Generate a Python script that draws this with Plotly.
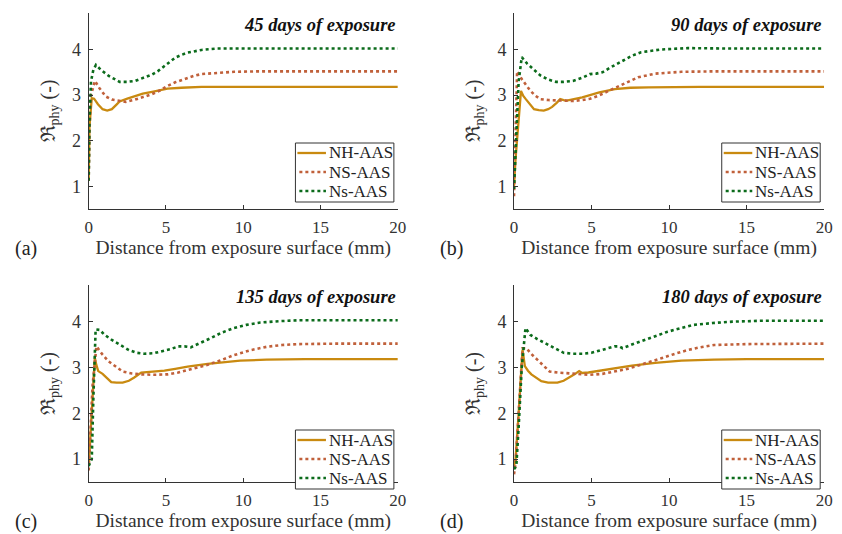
import plotly.graph_objects as go

# Physical resistance ratio profiles vs. depth for three mixes at four exposure times
panel_titles = ["45 days of exposure", "90 days of exposure",
                "135 days of exposure", "180 days of exposure"]
panel_tags = ["(a)", "(b)", "(c)", "(d)"]
series_names = ["NH-AAS", "NS-AAS", "Ns-AAS"]
x_ticks = [0, 5, 10, 15, 20]
y_ticks = [1, 2, 3, 4]

# ---- 45 days ----
nh_45_x = [0, 0.05, 0.2, 0.35, 0.6, 0.9, 1.2, 1.5, 1.8, 2.0, 2.5, 3.0, 3.5, 4.1, 4.6, 5.1, 6.0, 7.3, 9, 12, 16, 20]
nh_45_y = [1.12, 2.3, 2.93, 2.92, 2.80, 2.69, 2.66, 2.69, 2.79, 2.86, 2.92, 2.98, 3.03, 3.07, 3.11, 3.14, 3.16, 3.18, 3.18, 3.18, 3.18, 3.18]
ns_45_x = [0, 0.05, 0.15, 0.4, 0.7, 1.1, 1.5, 2.0, 2.4, 3.0, 3.5, 4.1, 4.6, 5.1, 5.6, 6.2, 6.8, 7.3, 8.3, 9.4, 11, 14, 20]
ns_45_y = [1.12, 2.2, 3.0, 3.31, 3.15, 2.97, 2.90, 2.87, 2.85, 2.90, 2.95, 3.02, 3.10, 3.20, 3.28, 3.35, 3.42, 3.46, 3.49, 3.51, 3.52, 3.52, 3.52]
nss_45_x = [0, 0.05, 0.15, 0.3, 0.47, 0.8, 1.3, 2.0, 2.5, 3.0, 3.4, 3.7, 4.1, 4.5, 5.0, 5.6, 6.0, 6.4, 7.3, 8.3, 10, 14, 20]
nss_45_y = [1.12, 2.4, 3.3, 3.55, 3.66, 3.55, 3.42, 3.29, 3.29, 3.31, 3.36, 3.40, 3.45, 3.53, 3.66, 3.82, 3.88, 3.93, 3.99, 4.02, 4.02, 4.02, 4.02]

# ---- 90 days ----
nh_90_x = [0, 0.1, 0.45, 0.6, 0.76, 1.0, 1.29, 1.6, 1.92, 2.2, 2.46, 2.75, 2.98, 3.2, 3.4, 4.4, 5.5, 6.5, 7.5, 8.7, 12, 20]
nh_90_y = [1.0, 1.6, 3.09, 2.98, 2.91, 2.82, 2.69, 2.67, 2.66, 2.69, 2.74, 2.83, 2.91, 2.89, 2.88, 2.95, 3.06, 3.13, 3.16, 3.17, 3.18, 3.18]
ns_90_x = [0, 0.05, 0.2, 0.5, 0.8, 1.06, 1.4, 1.7, 2.2, 2.7, 3.3, 3.8, 4.4, 4.9, 5.4, 5.9, 6.5, 7.0, 8.0, 9.1, 10.8, 13, 20]
ns_90_y = [0.78, 1.6, 3.52, 3.35, 3.2, 3.09, 2.98, 2.91, 2.89, 2.88, 2.87, 2.87, 2.89, 2.92, 2.98, 3.06, 3.16, 3.24, 3.39, 3.47, 3.51, 3.52, 3.52]
nss_90_x = [0, 0.1, 0.3, 0.5, 0.85, 1.3, 1.7, 2.2, 2.7, 3.2, 3.8, 4.4, 4.9, 5.3, 5.7, 6.3, 7.0, 7.6, 8.2, 9.5, 11.2, 14, 20]
nss_90_y = [0.94, 1.8, 3.3, 3.83, 3.69, 3.55, 3.43, 3.34, 3.29, 3.29, 3.31, 3.38, 3.46, 3.47, 3.50, 3.62, 3.75, 3.86, 3.94, 4.0, 4.03, 4.02, 4.02]

# ---- 135 days ----
nh_135_x = [0, 0.1, 0.4, 0.5, 0.62, 0.9, 1.15, 1.46, 1.8, 2.2, 2.6, 2.95, 3.4, 4.0, 4.9, 5.6, 6.4, 7.7, 8.8, 9.8, 11.5, 14, 20]
nh_135_y = [0.85, 1.5, 3.21, 3.05, 2.92, 2.86, 2.78, 2.68, 2.67, 2.67, 2.71, 2.78, 2.89, 2.90, 2.93, 2.97, 3.02, 3.08, 3.12, 3.15, 3.17, 3.18, 3.18]
ns_135_x = [0, 0.1, 0.25, 0.5, 0.9, 1.3, 1.8, 2.2, 2.8, 3.4, 4.2, 5.1, 5.8, 6.4, 7.0, 7.7, 8.5, 9.4, 10.5, 11.5, 12.5, 13.6, 16, 20]
ns_135_y = [0.75, 1.4, 2.6, 3.46, 3.28, 3.13, 3.0, 2.91, 2.87, 2.85, 2.84, 2.85, 2.89, 2.94, 3.0, 3.06, 3.15, 3.27, 3.38, 3.45, 3.49, 3.51, 3.52, 3.52]
nss_135_x = [0, 0.1, 0.2, 0.3, 0.45, 0.72, 1.0, 1.5, 2.0, 2.6, 3.1, 3.6, 4.2, 4.7, 5.3, 5.8, 6.2, 6.6, 7.2, 7.9, 8.6, 9.4, 10.2, 11.1, 12.3, 13.6, 16, 20]
nss_135_y = [0.85, 0.92, 1.0, 2.3, 3.83, 3.82, 3.72, 3.6, 3.5, 3.38, 3.32, 3.30, 3.31, 3.35, 3.40, 3.46, 3.46, 3.44, 3.53, 3.64, 3.76, 3.86, 3.93, 3.98, 4.01, 4.03, 4.03, 4.03]

# ---- 180 days ----
nh_180_x = [0, 0.1, 0.3, 0.55, 0.7, 0.9, 1.12, 1.4, 1.76, 2.2, 2.8, 3.2, 3.6, 3.9, 4.2, 4.4, 4.8, 5.7, 6.6, 7.6, 9.1, 10.8, 12.9, 15, 20]
nh_180_y = [0.85, 1.0, 2.0, 3.39, 3.03, 2.93, 2.85, 2.78, 2.70, 2.67, 2.67, 2.71, 2.78, 2.85, 2.92, 2.88, 2.89, 2.94, 2.99, 3.04, 3.10, 3.15, 3.17, 3.18, 3.18]
ns_180_x = [0, 0.1, 0.3, 0.55, 0.8, 1.1, 1.5, 1.9, 2.3, 2.8, 3.4, 4.2, 4.9, 5.7, 6.5, 7.2, 7.8, 8.6, 9.5, 10.3, 11.2, 12.0, 12.9, 15, 17, 20]
ns_180_y = [0.67, 0.9, 2.0, 3.42, 3.42, 3.3, 3.17, 3.05, 2.91, 2.89, 2.88, 2.86, 2.84, 2.86, 2.91, 2.96, 3.02, 3.1, 3.2, 3.29, 3.38, 3.44, 3.49, 3.51, 3.52, 3.52]
nss_180_x = [0, 0.15, 0.3, 0.5, 0.74, 1.06, 1.5, 1.9, 2.5, 3.2, 3.8, 4.4, 5.0, 5.7, 6.5, 6.8, 7.0, 7.6, 8.2, 9.0, 9.9, 10.8, 11.6, 12.8, 14.1, 16, 20]
nss_180_y = [0.78, 0.85, 1.7, 3.0, 3.86, 3.71, 3.62, 3.55, 3.44, 3.32, 3.30, 3.30, 3.32, 3.38, 3.46, 3.46, 3.42, 3.50, 3.57, 3.67, 3.78, 3.86, 3.93, 3.97, 4.0, 4.02, 4.02]

panels = [
    [(nh_45_x, nh_45_y), (ns_45_x, ns_45_y), (nss_45_x, nss_45_y)],
    [(nh_90_x, nh_90_y), (ns_90_x, ns_90_y), (nss_90_x, nss_90_y)],
    [(nh_135_x, nh_135_y), (ns_135_x, ns_135_y), (nss_135_x, nss_135_y)],
    [(nh_180_x, nh_180_y), (ns_180_x, ns_180_y), (nss_180_x, nss_180_y)],
]

FONT = "'Liberation Serif', 'Times New Roman', Times, serif"
W, H = 842, 534
colors = ["#C98A10", "#C0603A", "#0B6B1B"]
dashes = ["solid", "3px,3px", "3px,3px"]
widths = [2.3, 2.6, 2.6]

# pixel boxes of the four plot areas: (left, right, top, bottom)
boxes = [(86, 400, 13, 209), (518, 833, 13, 209), (86, 400, 285, 482), (518, 833, 285, 482)]
# top-left corners of the legend boxes
legend_pos = [(296, 143), (729, 143), (296, 430), (729, 430)]
LEG_W, LEG_H = 100, 59
legend_rows = [10, 29, 48]


def px(x):
    return x / W


def py(y):
    return 1 - y / H


fig = go.Figure()
layout = {}
shapes = []
annotations = []
for i, (series, box) in enumerate(zip(panels, boxes)):
    ax = "" if i == 0 else str(i + 1)
    for j, (xs, ys) in enumerate(series):
        fig.add_trace(go.Scatter(
            x=xs, y=ys, mode="lines", name=series_names[j], showlegend=False,
            line=dict(color=colors[j], width=widths[j], dash=dashes[j]),
            xaxis="x" + ax, yaxis="y" + ax,
        ))
    l, r, t, b = box
    layout["xaxis" + ax] = dict(
        domain=[px(l), px(r)], range=[0, 20], anchor="y" + ax,
        tickvals=x_ticks, ticks="inside", ticklen=4, tickcolor="#333",
        ticklabelstandoff=3,
        showline=True, linecolor="#333", linewidth=1, showgrid=False, zeroline=False,
        tickfont=dict(family=FONT, size=17, color="#333"),
        title=dict(text="Distance from exposure surface (mm)", standoff=3,
                   font=dict(family=FONT, size=19.5, color="#333")),
    )
    layout["yaxis" + ax] = dict(
        domain=[py(b), py(t)], range=[0.5, 4.8], anchor="x" + ax,
        tickvals=y_ticks, ticks="inside", ticklen=4, tickcolor="#333",
        ticklabelstandoff=3,
        showline=True, linecolor="#333", linewidth=1, showgrid=False, zeroline=False,
        tickfont=dict(family=FONT, size=18, color="#333"),
        title=dict(text="ℜ<sub>phy</sub> (-)", standoff=11,
                   font=dict(family=FONT, size=20, color="#333")),
    )

    # legend box with line samples and labels
    lx, ly = legend_pos[i]
    shapes.append(dict(type="rect", xref="paper", yref="paper",
                       x0=px(lx), x1=px(lx + LEG_W), y0=py(ly + LEG_H), y1=py(ly),
                       line=dict(color="#333", width=1), fillcolor="white", layer="above"))
    for j, row in enumerate(legend_rows):
        x0 = lx + (2 if j == 0 else 4)
        shapes.append(dict(type="line", xref="paper", yref="paper",
                           x0=px(x0), x1=px(lx + 31), y0=py(ly + row), y1=py(ly + row),
                           line=dict(color=colors[j], width=widths[j], dash=dashes[j]),
                           layer="above"))
        annotations.append(dict(
            text=series_names[j], x=px(lx + 32), y=py(ly + row),
            xref="paper", yref="paper", xanchor="left", yanchor="middle", showarrow=False,
            font=dict(family=FONT, size=17, color="#222"),
        ))

    annotations.append(dict(
        text=f"<b><i>{panel_titles[i]}</i></b>", x=px(r), y=py(t + 12),
        xref="paper", yref="paper", xanchor="right", yanchor="middle", showarrow=False,
        font=dict(family=FONT, size=18.5, color="#111"),
    ))
    annotations.append(dict(
        text=panel_tags[i], x=px(l - 77), y=py(b + 39),
        xref="paper", yref="paper", xanchor="left", yanchor="middle", showarrow=False,
        font=dict(family=FONT, size=20, color="#222"),
    ))

fig.update_layout(
    width=W, height=H, margin=dict(l=0, r=0, t=0, b=0),
    paper_bgcolor="white", plot_bgcolor="white", showlegend=False,
    font=dict(family=FONT),
    shapes=shapes, annotations=annotations, **layout,
)
fig.write_html("out.html")
